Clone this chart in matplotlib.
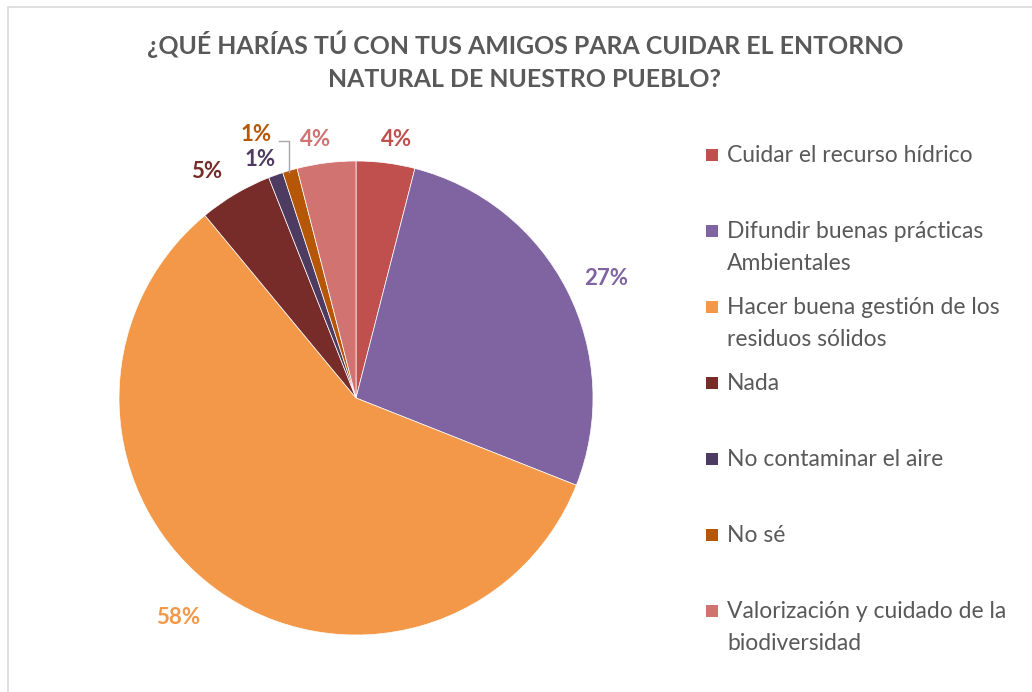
import matplotlib.pyplot as plt
from matplotlib.patches import Rectangle
import numpy as np

plt.rcParams['font.family'] = ['Lato', 'DejaVu Sans']

categories = ['Cuidar el recurso hídrico',
              'Difundir buenas prácticas\nAmbientales',
              'Hacer buena gestión de los\nresiduos sólidos',
              'Nada',
              'No contaminar el aire',
              'No sé',
              'Valorización y cuidado de la\nbiodiversidad']
values = [4, 27, 58, 5, 1, 1, 4]
colors = ['#C0504D', '#8064A2', '#F39848', '#772C2A', '#4D3B62', '#B65708', '#D07371']
label_colors = ['#C0504D', '#8064A2', '#F39848', '#772C2A', '#4D3B62', '#B65708', '#D07371']
title = '¿QUÉ HARÍAS TÚ CON TUS AMIGOS PARA CUIDAR EL ENTORNO\nNATURAL DE NUESTRO PUEBLO?'

W, H = 1032, 692
fig = plt.figure(figsize=(W / 100, H / 100), dpi=100)

# light frame of the chart area
fig.add_artist(Rectangle((8 / W, -0.1), 1.2, (H - 7) / H + 0.1, transform=fig.transFigure,
                         fill=False, edgecolor='#D9D9D9', lw=1.2))

cx, cy, R = 356, 398, 237
ax = fig.add_axes([(cx - R) / W, (H - cy - R) / H, 2 * R / W, 2 * R / H])
wedges, _ = ax.pie(values, colors=colors, startangle=90, counterclock=False, radius=1,
                   wedgeprops=dict(edgecolor='white', linewidth=0.5))
ax.set_xlim(-1, 1)
ax.set_ylim(-1, 1)
ax.axis('off')

# label distance (in radii) and angular nudge per slice
dist = [1.105, 1.17, 1.19, 1.145, 1.085, 1.19, 1.105]
nudge = [-1.6, -1.4, -3, 2.8, 2.2, 4.5, 1.6]
for i, w in enumerate(wedges):
    ang = np.deg2rad((w.theta1 + w.theta2) / 2 + nudge[i])
    x, y = dist[i] * np.cos(ang), dist[i] * np.sin(ang)
    ax.text(x, y, f'{values[i]}%', ha='center', va='center', fontsize=16,
            fontweight='bold', color=label_colors[i], clip_on=False)
    if i == 5:
        # leader line for the small "No sé" slice
        x0 = x + 0.095
        y0 = y - 0.028
        ax.plot([x0, x0 + 0.042, x0 + 0.042], [y0, y0, 0.955], color='#A6A6A6', lw=1,
                clip_on=False)

fig.text(525 / W, 1 - 30 / H, title, ha='center', va='top', fontsize=17.9,
         fontweight='bold', color='#595959', linespacing=1.56)

# legend
ly0 = 145
step = 76
for i, lab in enumerate(categories):
    ytop = ly0 + i * step
    fig.add_artist(Rectangle((706 / W, 1 - (ytop + 16) / H), 12 / W, 12 / H,
                             transform=fig.transFigure, facecolor=colors[i], edgecolor='none'))
    fig.text(727 / W, 1 - ytop / H, lab, ha='left', va='top', fontsize=16.5,
             color='#595959', linespacing=1.62)

fig.savefig('out.png', dpi=100)
